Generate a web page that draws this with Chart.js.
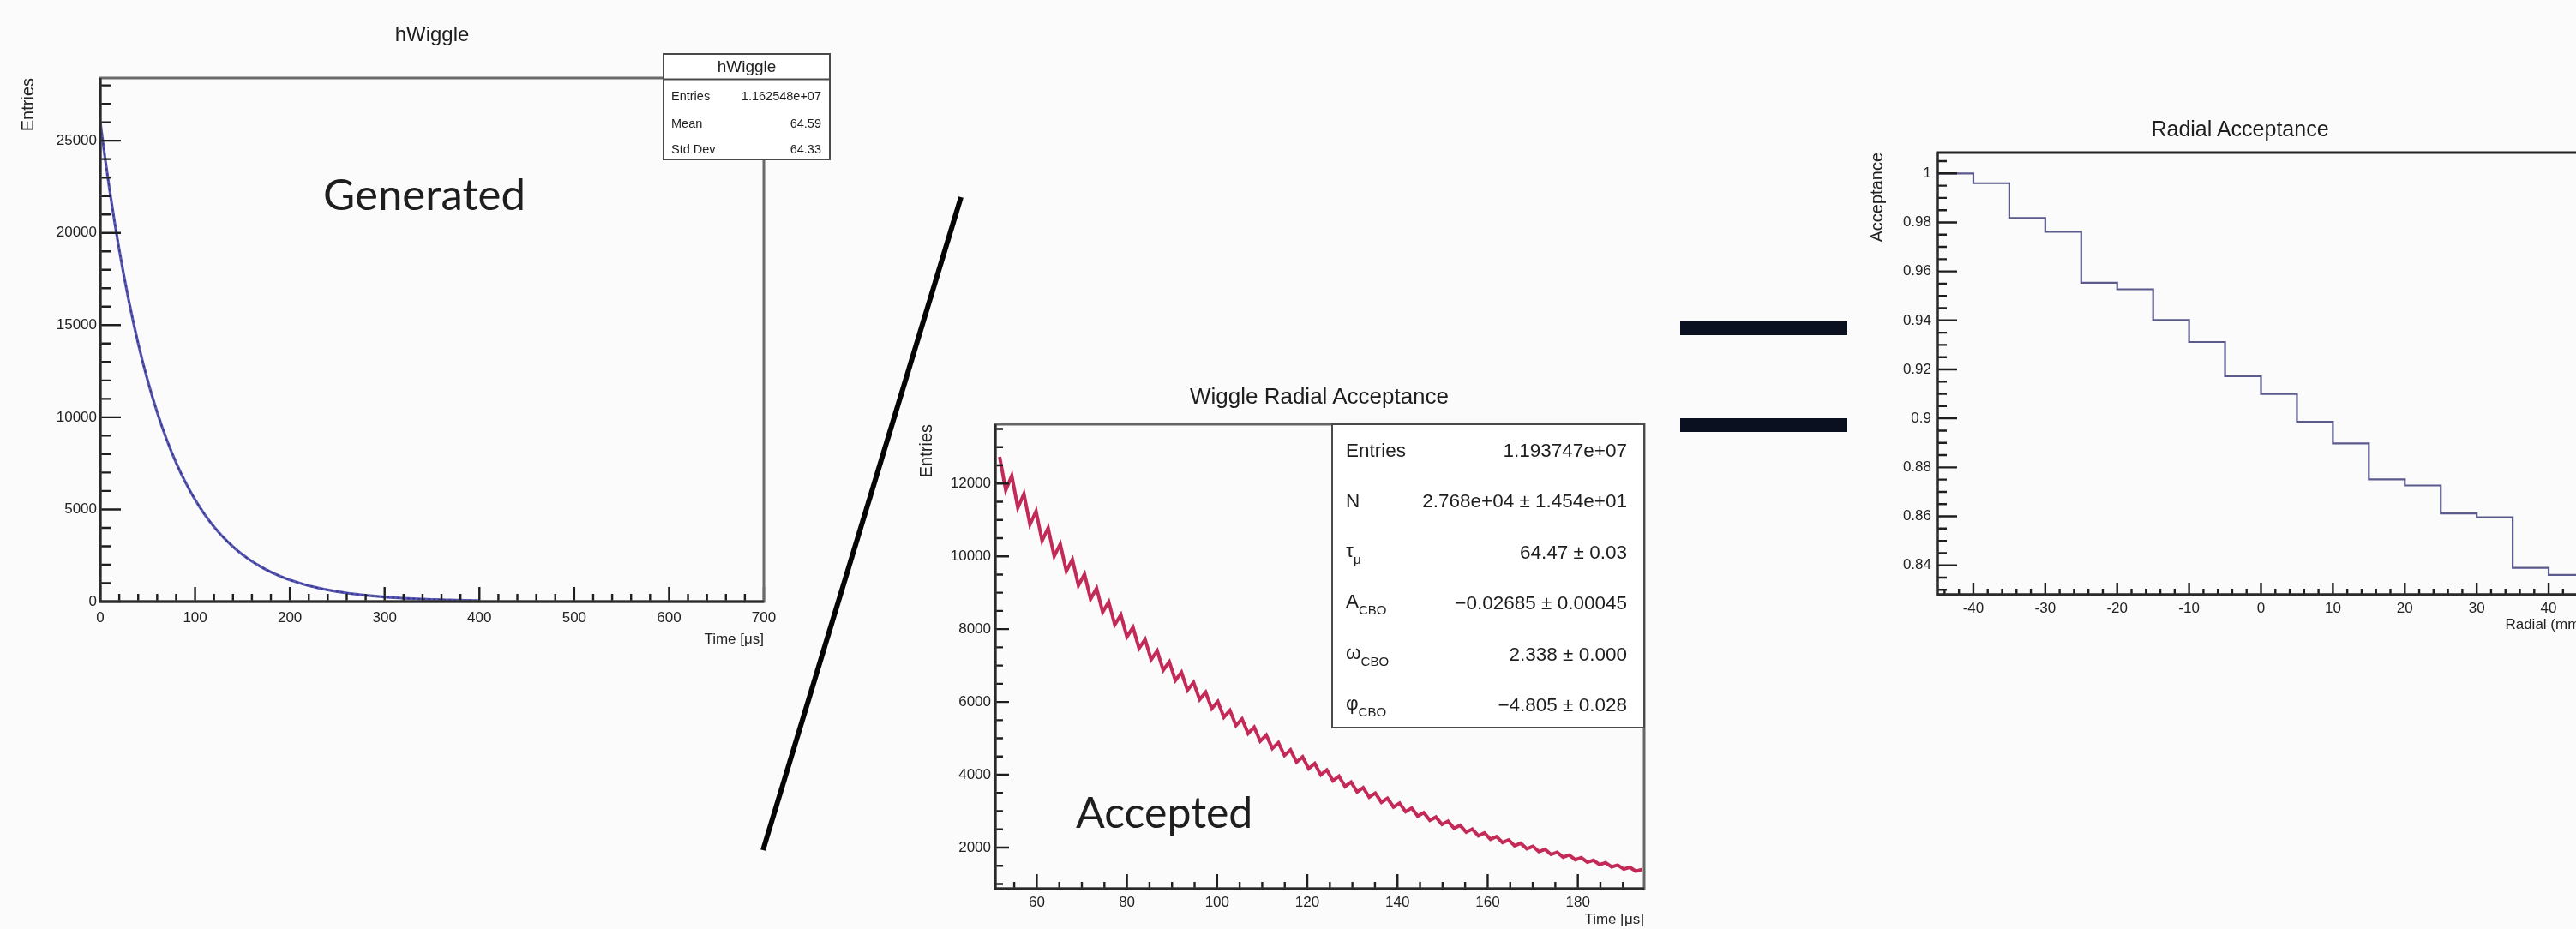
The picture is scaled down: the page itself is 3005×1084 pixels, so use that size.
<!DOCTYPE html>
<html><head><meta charset="utf-8">
<script src="https://cdn.jsdelivr.net/npm/chart.js@4/dist/chart.umd.min.js"></script>
<style>
html,body{margin:0;padding:0;background:#fbfbfc;overflow:hidden;width:3005px;height:1084px;position:relative;}
canvas{position:absolute;}
#ov{position:absolute;left:0;top:0;}
</style></head><body>
<canvas id="cGen" width="1000" height="790" style="left:0;top:0;width:1000px;height:790px"></canvas>
<canvas id="cAcc" width="900" height="664" style="left:1060px;top:420px;width:900px;height:664px"></canvas>
<canvas id="cRad" width="880" height="680" style="left:2150px;top:100px;width:880px;height:680px"></canvas>
<svg id="ov" width="3005" height="1084" xmlns="http://www.w3.org/2000/svg"></svg>
<script>
// ---------- data ----------
const genTime = [0,5,10,15,20,25,30,35,40,45,50,55,60,65,70,75,80,85,90,95,100,105,110,115,120,125,130,135,140,145,150,155,160,165,170,175,180,185,190,195,200,205,210,215,220,225,230,235,240,245,250,255,260,265,270,275,280,285,290,295,300,305,310,315,320,325,330,335,340,345,350,355,360,365,370,375,380,385,390,395,400];
const genCounts = [26000,24064,22272,20613,19078,17657,16342,15125,13998,12956,11991,11098,10271,9506,8798,8143,7536,6975,6455,5975,5530,5118,4737,4384,4057,3755,3476,3217,2977,2755,2550,2360,2185,2022,1871,1732,1603,1484,1373,1271,1176,1089,1008,933,863,799,739,684,633,586,543,502,465,430,398,368,341,316,292,270,250,231,214,198,183,170,157,145,134,124,115,106,98,91,84,78,72,67,62,57,53];
const genXTicks = [0,100,200,300,400,500,600,700];
const genYTicks = [0,5000,10000,15000,20000,25000];

const accTime = [51.77,53.12,54.46,55.80,57.15,58.49,59.84,61.18,62.52,63.87,
65.21,66.55,67.90,69.24,70.59,71.93,73.27,74.62,75.96,77.30,
78.65,79.99,81.34,82.68,84.02,85.37,86.71,88.05,89.40,90.74,
92.09,93.43,94.77,96.12,97.46,98.80,100.15,101.49,102.84,104.18,
105.52,106.87,108.21,109.55,110.90,112.24,113.59,114.93,116.27,117.62,
118.96,120.30,121.65,122.99,124.33,125.68,127.02,128.37,129.71,131.05,
132.40,133.74,135.08,136.43,137.77,139.12,140.46,141.80,143.15,144.49,
145.83,147.18,148.52,149.87,151.21,152.55,153.90,155.24,156.58,157.93,
159.27,160.62,161.96,163.30,164.65,165.99,167.33,168.68,170.02,171.36,
172.71,174.05,175.40,176.74,178.08,179.43,180.77,182.11,183.46,184.80,
186.15,187.49,188.83,190.18,191.52,192.86,194.21];
const accCounts = [12732,11817,12212,11335,11713,10872,11236,10428,10777,10002,
10336,9593,9914,9202,9510,8826,9122,8466,8749,8121,
8391,7788,8048,7471,7720,7165,7405,6873,7103,6592,
6813,6323,6535,6066,6268,5817,6012,5580,5767,5352,
5532,5134,5306,4924,5089,4724,4882,4531,4682,4346,
4490,4168,4308,3998,4131,3834,3963,3678,3800,3528,
3645,3384,3496,3245,3354,3113,3217,2986,3086,2864,
2959,2747,2838,2634,2722,2527,2611,2424,2506,2325,
2403,2230,2304,2139,2211,2051,2120,1968,2033,1887,
1951,1811,1871,1737,1795,1666,1722,1598,1651,1533,
1584,1470,1520,1410,1458,1353,1398];
const accXTicks = [60,80,100,120,140,160,180];
const accYTicks = [2000,4000,6000,8000,10000,12000];

const radialEdges = [-45,-40,-35,-30,-25,-20,-15,-10,-5,0,5,10,15,20,25,30,35,40,45];
const acceptance = [1.000,0.9960,0.9818,0.9762,0.9554,0.9527,0.9402,0.9312,0.9172,0.9100,0.8986,0.8898,0.8751,0.8726,0.8612,0.8596,0.8390,0.8361];
const radXTicks = [-40,-30,-20,-10,0,10,20,30,40];
const radYTicks = [0.84,0.86,0.88,0.9,0.92,0.94,0.96,0.98,1];

const genStatsLabels = ['Entries','Mean','Std Dev'];
const genStatsValues = ['1.162548e+07','64.59','64.33'];
const accStatsLabels = [['Entries',''],['N',''],['τ','μ'],['A','CBO'],['ω','CBO'],['φ','CBO']];
const accStatsValues = ['1.193747e+07','2.768e+04 ± 1.454e+01','64.47 ± 0.03','−0.02685 ± 0.00045','2.338 ± 0.000','−4.805 ± 0.028'];

// ---------- charts ----------
Chart.defaults.font.family = "'Liberation Sans', Arial, sans-serif";
Chart.defaults.color = '#222';

function makeFrame(c) {
  return {
    id: 'rootFrame',
    afterDatasetsDraw(chart) {
      const {ctx, chartArea: a, scales: {x, y}} = chart;
      ctx.save();
      ctx.lineCap = 'butt';
      const each = (min, max, step, fn) => {
        for (let k = Math.ceil(min / step - 1e-6); k <= Math.floor(max / step + 1e-6); k++) fn(k * step);
      };
      const isMaj = (v, arr, step) => arr.some(m => Math.abs(m - v) < step * 0.01);
      ctx.strokeStyle = '#1e1e1e'; ctx.lineWidth = 2.4;
      ctx.beginPath();
      each(x.min, x.max, c.xMinor, v => {
        const p = x.getPixelForValue(v);
        const L = isMaj(v, c.xTicks, c.xMinor) ? c.xMajLen : c.xMinLen;
        ctx.moveTo(p, a.bottom); ctx.lineTo(p, a.bottom - L);
      });
      each(y.min, y.max, c.yMinor, v => {
        const p = y.getPixelForValue(v);
        const L = isMaj(v, c.yTicks, c.yMinor) ? c.yMajLen : c.yMinLen;
        ctx.moveTo(a.left, p); ctx.lineTo(a.left + L, p);
      });
      ctx.stroke();
      ctx.strokeStyle = c.frameColor; ctx.lineWidth = 3;
      ctx.strokeRect(a.left, a.top, a.right - a.left, a.bottom - a.top);
      ctx.strokeStyle = '#2a2a2a'; ctx.lineWidth = 3;
      ctx.beginPath(); ctx.moveTo(a.left, a.top); ctx.lineTo(a.left, a.bottom); ctx.lineTo(a.right, a.bottom); ctx.stroke();
      ctx.restore();
    }
  };
}

function makeChart(id, c) {
  return new Chart(document.getElementById(id), {
    type: 'line',
    data: { datasets: c.datasets },
    options: {
      responsive: false, animation: false, devicePixelRatio: 1,
      layout: { padding: c.padding },
      plugins: { legend: {display: false}, title: {display: false}, tooltip: {enabled: false} },
      elements: { point: { radius: 0 }, line: { tension: 0 } },
      scales: {
        x: {
          type: 'linear', min: c.xMin, max: c.xMax,
          afterFit: s => { s.height = c.xH; },
          afterBuildTicks: s => { s.ticks = c.xTicks.map(v => ({value: v})); },
          grid: {display: false, drawTicks: false}, border: {display: false},
          ticks: {autoSkip: false, maxRotation: 0, padding: c.xTickPad, font: {size: 17}, color: '#222', callback: c.xFmt},
          title: {display: true, text: c.xTitle, align: 'end', font: {size: 17}, color: '#222', padding: {top: 0, bottom: c.xTitlePad}}
        },
        y: {
          type: 'linear', min: c.yMin, max: c.yMax,
          afterFit: s => { s.width = c.yW; },
          afterBuildTicks: s => { s.ticks = c.yTicks.map(v => ({value: v})); },
          grid: {display: false, drawTicks: false}, border: {display: false},
          ticks: {autoSkip: false, padding: c.yTickPad, font: {size: 17}, color: '#222', callback: c.yFmt},
          title: {display: true, text: c.yTitle, align: 'end', font: {size: 20}, color: '#222', padding: {top: c.yTitlePad, bottom: 0}}
        }
      }
    },
    plugins: [makeFrame(c)]
  });
}

const genPts = genTime.map((t, i) => ({x: t, y: genCounts[i]}));
makeChart('cGen', {
  datasets: [
    {data: genPts, borderColor: 'rgba(62,62,165,0.85)', borderWidth: 3.2, pointRadius: 0},
    {data: genPts, borderColor: '#10102a', borderWidth: 1.8, borderDash: [3, 3], pointRadius: 0}
  ],
  padding: {left: 0, top: 91, right: 109, bottom: 0},
  xMin: 0, xMax: 700, yMin: 0, yMax: 28400,
  xTicks: genXTicks, yTicks: genYTicks, xMinor: 20, yMinor: 1000,
  xMajLen: 17, xMinLen: 9, yMajLen: 24, yMinLen: 12,
  xH: 88, yW: 117, xTickPad: 9, yTickPad: 4, xTitlePad: 33, yTitlePad: 21,
  xTitle: 'Time [μs]', yTitle: 'Entries',
  xFmt: v => String(v), yFmt: v => String(v), frameColor: '#6a6a6a'
});

const accPts = accTime.map((t, i) => ({x: t, y: accCounts[i]}));
makeChart('cAcc', {
  datasets: [
    {data: accPts, borderColor: '#c42a58', borderWidth: 4, pointRadius: 0},
    {data: accPts, borderColor: '#3c0f2c', borderWidth: 1.5, pointRadius: 0}
  ],
  padding: {left: 0, top: 75, right: 42, bottom: 0},
  xMin: 50.8, xMax: 194.7, yMin: 870, yMax: 13630,
  xTicks: accXTicks, yTicks: accYTicks, xMinor: 5, yMinor: 500,
  xMajLen: 17, xMinLen: 8, yMajLen: 16, yMinLen: 9,
  xH: 47, yW: 101, xTickPad: 6, yTickPad: 5, xTitlePad: 0, yTitlePad: 9,
  xTitle: 'Time [μs]', yTitle: 'Entries',
  xFmt: v => String(v), yFmt: v => String(v), frameColor: '#666'
});

const radPts = radialEdges.map((e, i) => ({x: e, y: acceptance[Math.min(i, acceptance.length - 1)]}));
makeChart('cRad', {
  datasets: [
    {data: radPts, borderColor: '#5a5a8c', borderWidth: 2.2, pointRadius: 0, stepped: true}
  ],
  padding: {left: 0, top: 78, right: 15, bottom: 0},
  xMin: -45, xMax: 45, yMin: 0.828, yMax: 1.0085,
  xTicks: radXTicks, yTicks: radYTicks, xMinor: 2, yMinor: 0.005,
  xMajLen: 14, xMinLen: 7, yMajLen: 23, yMinLen: 11,
  xH: 86, yW: 110, xTickPad: 6, yTickPad: 7, xTitlePad: 40, yTitlePad: 28,
  xTitle: 'Radial (mm)', yTitle: 'Acceptance',
  xFmt: v => String(v), yFmt: v => String(+(+v).toFixed(3)), frameColor: '#222'
});

// ---------- overlay: titles, stats boxes, annotations ----------
const NS = 'http://www.w3.org/2000/svg';
const svg = document.getElementById('ov');
function el(tag, attrs, parent) {
  const e = document.createElementNS(NS, tag);
  for (const k in attrs) e.setAttribute(k, attrs[k]);
  (parent || svg).appendChild(e);
  return e;
}
function text(x, y, s, size, anchor, fam) {
  const t = el('text', {x, y, 'font-size': size, 'text-anchor': anchor || 'start',
    'font-family': fam || "'Liberation Sans', Arial, sans-serif", fill: '#1e1e1e'});
  t.textContent = s;
  return t;
}
text(504, 48, 'hWiggle', 24, 'middle');
text(1539, 471, 'Wiggle Radial Acceptance', 26, 'middle');
text(2613, 158.5, 'Radial Acceptance', 25, 'middle');

// left stats box
el('rect', {x: 774, y: 63, width: 194, height: 123, fill: '#fff', stroke: '#4a4a4a', 'stroke-width': 2});
el('line', {x1: 774, y1: 92.5, x2: 968, y2: 92.5, stroke: '#4a4a4a', 'stroke-width': 2});
text(871, 84, 'hWiggle', 19, 'middle');
const genRowY = [117, 148.5, 179];
genStatsLabels.forEach((l, i) => {
  text(783, genRowY[i], l, 14.5, 'start');
  text(958, genRowY[i], genStatsValues[i], 14.5, 'end');
});

// middle stats box
el('rect', {x: 1554, y: 495, width: 364, height: 354, fill: '#fff', stroke: '#4a4a4a', 'stroke-width': 2});
accStatsLabels.forEach((l, i) => {
  const by = 533 + 59.4 * i;
  const t = el('text', {x: 1570, y: l[1] ? by - 2 : by, 'font-size': 22.5,
    'font-family': "'Liberation Sans', Arial, sans-serif", fill: '#1e1e1e'});
  const a = el('tspan', {}, t); a.textContent = l[0];
  if (l[1]) { const b = el('tspan', {'font-size': 15, dy: 8}, t); b.textContent = l[1]; }
  text(1898, by, accStatsValues[i], 22.5, 'end');
});

// slide annotations
text(377, 245, 'Generated', 51, 'start', "Lato, 'Open Sans', sans-serif");
text(1255, 966, 'Accepted', 50, 'start', "Lato, 'Open Sans', sans-serif");
el('line', {x1: 1121, y1: 230, x2: 890, y2: 992, stroke: '#050505', 'stroke-width': 6});
el('rect', {x: 1960, y: 375, width: 195, height: 16, fill: '#0b1020'});
el('rect', {x: 1960, y: 488, width: 195, height: 16, fill: '#0b1020'});
</script>
</body></html>
